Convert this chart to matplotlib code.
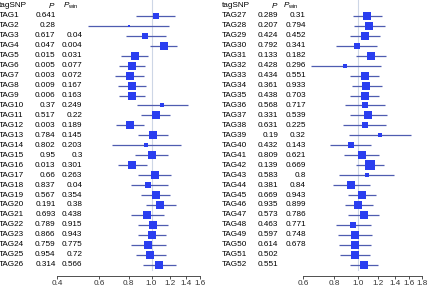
import matplotlib
matplotlib.use("Agg")
import matplotlib.pyplot as plt
import matplotlib.transforms as mtransforms

plt.rcParams['font.family'] = ['Liberation Sans', 'DejaVu Sans']
plt.rcParams['mathtext.fontset'] = 'custom'
plt.rcParams['mathtext.it'] = 'Liberation Sans:italic'
plt.rcParams['mathtext.rm'] = 'Liberation Sans'

# ---------------- data ----------------
tags_left = [f"TAG{i}" for i in range(1, 27)]
p_left = ["0.641", "0.28", "0.617", "0.047", "0.015", "0.005", "0.003", "0.009", "0.006",
          "0.37", "0.517", "0.003", "0.784", "0.802", "0.95", "0.013", "0.66", "0.837",
          "0.567", "0.191", "0.693", "0.789", "0.866", "0.759", "0.954", "0.314"]
pwin_left = ["", "", "0.04", "0.004", "0.031", "0.077", "0.072", "0.167", "0.163",
             "0.249", "0.22", "0.189", "0.145", "0.203", "0.3", "0.301", "0.263", "0.04",
             "0.354", "0.38", "0.438", "0.915", "0.943", "0.775", "0.72", "0.566"]
or_left = [1.04, 0.80, 0.94, 1.13, 0.85, 0.83, 0.81, 0.83, 0.83,
           1.11, 1.04, 0.81, 1.01, 0.95, 1.00, 0.83, 1.03, 0.97,
           1.04, 1.09, 0.96, 1.01, 1.00, 0.97, 0.99, 1.08]
lo_left = [0.86, 0.54, 0.78, 0.99, 0.745, 0.73, 0.705, 0.72, 0.73,
           0.865, 0.90, 0.71, 0.88, 0.68, 0.856, 0.724, 0.88, 0.816,
           0.90, 0.946, 0.82, 0.875, 0.875, 0.82, 0.86, 0.92]
hi_left = [1.25, 1.19, 1.15, 1.28, 0.965, 0.943, 0.928, 0.95, 0.941,
           1.43, 1.195, 0.928, 1.168, 1.334, 1.168, 0.959, 1.21, 1.172,
           1.195, 1.27, 1.124, 1.172, 1.149, 1.146, 1.149, 1.27]
w_left = [6, 2.5, 5.5, 8.5, 8.5, 8.5, 8.5, 8.5, 8.5,
          4, 7.5, 8.5, 8, 3.5, 7.5, 8.5, 7.5, 6,
          8.5, 8.5, 8, 8.5, 9, 8, 8.5, 8]

tags_right = [f"TAG{i}" for i in range(27, 53)]
p_right = ["0.289", "0.207", "0.424", "0.792", "0.133", "0.428", "0.434", "0.361", "0.438",
           "0.568", "0.331", "0.631", "0.19", "0.432", "0.809", "0.139", "0.583", "0.381",
           "0.669", "0.935", "0.573", "0.463", "0.597", "0.614", "0.502", "0.551"]
pwin_right = ["0.31", "0.794", "0.452", "0.341", "0.182", "0.296", "0.551", "0.933", "0.703",
              "0.717", "0.539", "0.225", "0.32", "0.143", "0.621", "0.669", "0.8", "0.84",
              "0.943", "0.899", "0.786", "0.771", "0.748", "0.678", "", ""]
or_right = [1.085, 1.105, 1.065, 0.984, 1.12, 0.888, 1.062, 1.075, 1.059,
            1.065, 1.095, 1.059, 1.22, 0.933, 1.03, 1.11, 1.085, 0.933,
            1.036, 1.00, 1.052, 0.95, 0.968, 0.971, 0.971, 1.049]
lo_right = [0.948, 0.959, 0.93, 0.817, 0.98, 0.644, 0.93, 0.942, 0.93,
            0.885, 0.924, 0.868, 0.918, 0.773, 0.874, 0.98, 0.837, 0.79,
            0.91, 0.882, 0.91, 0.81, 0.83, 0.837, 0.845, 0.924]
hi_right = [1.24, 1.278, 1.22, 1.19, 1.29, 1.228, 1.213, 1.24, 1.213,
            1.278, 1.302, 1.29, 1.62, 1.126, 1.21, 1.266, 1.39, 1.112,
            1.18, 1.14, 1.213, 1.12, 1.13, 1.126, 1.11, 1.195]
w_right = [8.5, 8.5, 8.5, 6, 8.5, 3.5, 8.5, 8.5, 8.5,
           6.5, 7.5, 6.5, 3.5, 6, 7.5, 10, 5, 7.5,
           8.5, 8.5, 7.5, 6.5, 7.5, 7.5, 9, 8.5]

ticks_left = [0.4, 0.6, 0.8, 1.0, 1.2, 1.4, 1.6]
ticks_right = [0.6, 0.8, 1.0, 1.2, 1.4, 1.6, 1.8]

# ---------------- figure ----------------
W, H = 430, 288
fig = plt.figure(figsize=(W / 100, H / 100), dpi=100)
FS = 5.9
SQ = '#2a3ef0'
LN = '#4f5cb0'
REF = '#cdd6e6'


def panel(px_left, px_right, xlim, ticks, tags, pv, pw, ors, los, his, ws,
          x_tag, x_p, x_pw_head, x_pw):
    ax = fig.add_axes([px_left / W, 12 / H, (px_right - px_left) / W, 276 / H])
    ax.set_xscale('log')
    ax.set_xlim(*xlim)
    ax.set_ylim(27.14, -0.603)
    for s in ['top', 'right', 'left']:
        ax.spines[s].set_visible(False)
    ax.spines['bottom'].set_linewidth(0.6)
    ax.spines['bottom'].set_color('#333333')
    ax.set_yticks([])
    ax.set_xticks(ticks)
    ax.set_xticklabels([f"{t:.1f}" for t in ticks])
    ax.minorticks_off()
    ax.tick_params(axis='x', length=2, width=0.6, pad=1.0, labelsize=FS, colors='#333333')
    ax.plot([1, 1], [-0.65, 26.5], color=REF, lw=0.8, zorder=0)
    rows = list(range(1, len(tags) + 1))
    for r, o, lo, hi, w in zip(rows, ors, los, his, ws):
        ax.plot([lo, hi], [r, r], color=LN, lw=0.9, zorder=1, solid_capstyle='butt')
        ax.plot([o], [r], marker='s', ms=w / 1.389, color=SQ, mec=SQ, mew=0, zorder=2)
    tr = mtransforms.blended_transform_factory(fig.transFigure, ax.transData)
    ax.text(x_tag / W, 0, "tagSNP", transform=tr, ha='left', va='center', fontsize=FS)
    ax.text(x_p / W, 0, "$P$", transform=tr, ha='right', va='center', fontsize=FS)
    ax.text(x_pw_head / W, 0, "$P_{\\mathrm{win}}$", transform=tr, ha='left', va='center', fontsize=FS)
    for r, t, a, b in zip(rows, tags, pv, pw):
        ax.text(x_tag / W, r, t, transform=tr, ha='left', va='center', fontsize=FS)
        ax.text(x_p / W, r, a, transform=tr, ha='right', va='center', fontsize=FS)
        if b:
            ax.text(x_pw / W, r, b, transform=tr, ha='right', va='center', fontsize=FS)
    return ax


panel(57, 200, (0.4, 1.6), ticks_left, tags_left, p_left, pwin_left,
      or_left, lo_left, hi_left, w_left, -1.5, 55.5, 62.5, 82.5)
panel(303, 422, (0.6, 1.8), ticks_right, tags_right, p_right, pwin_right,
      or_right, lo_right, hi_right, w_right, 222, 278.5, 283, 306)

fig.savefig("out.png", dpi=100)
